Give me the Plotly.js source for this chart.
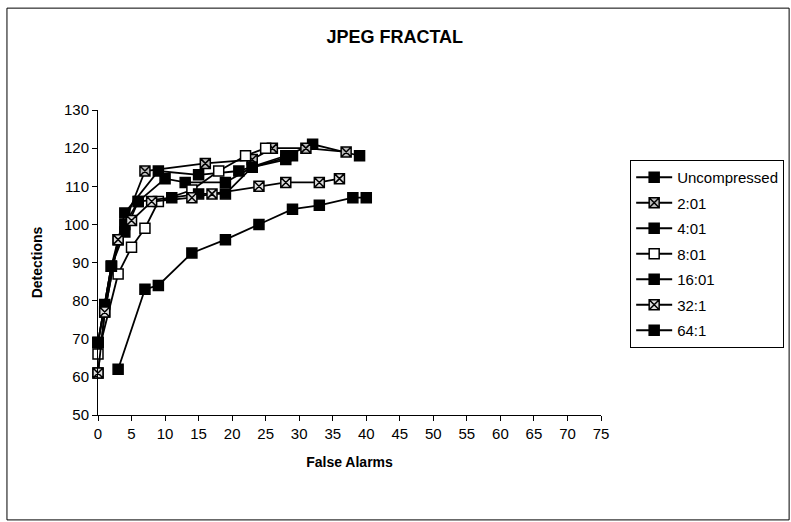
<!DOCTYPE html>
<html><head><meta charset="utf-8">
<script src="https://cdn.plot.ly/plotly-3.0.1.min.js"></script>
<style>body{margin:0;background:#fff}#c{width:791px;height:522px}</style>
</head><body><div id="c"></div>
<script>
const seriesNames = ["Uncompressed","2:01","4:01","8:01","16:01","32:1","64:1"];
const uncompX = [0,2,4,9,15,21,28,32,39];
const uncompY = [69,89,103,114,113,114,118,121,118];
const r2X = [0,1,3,7,16,23,26,31,37];
const r2Y = [61,77,96,114,116,117,120,120,119];
const r4X = [0,2,4,6,10,13,19,23,29];
const r4Y = [69,89,98,106,112,111,111,115,118];
const r8X = [0,3,5,7,9,14,18,22,25];
const r8Y = [66,87,94,99,106,109,114,118,120];
const r16X = [0,1,2,4,6,11,15,19,23,28];
const r16Y = [69,79,89,100,106,107,108,108,115,117];
const r32X = [0,1,3,5,8,14,17,24,28,33,36];
const r32Y = [61,77,96,101,106,107,108,110,111,111,112];
const r64X = [3,7,9,14,19,24,29,33,38,40];
const r64Y = [62,83,84,92.5,96,100,104,105,107,107];

const xs = [uncompX,r2X,r4X,r8X,r16X,r32X,r64X];
const ys = [uncompY,r2Y,r4Y,r8Y,r16Y,r32Y,r64Y];
const styles = [
  {symbol:'square', color:'#000'},
  {symbol:'square-x', color:'#bbb'},
  {symbol:'square', color:'#000'},
  {symbol:'square', color:'#fff'},
  {symbol:'square', color:'#000'},
  {symbol:'square-x', color:'#ddd'},
  {symbol:'square', color:'#000'}
];
const traces = seriesNames.map((n,i)=>({
  x: xs[i], y: ys[i], name: n, type:'scatter', mode:'lines+markers',
  legendgroup: 'g'+i,
  line:{color:'#000', width:1.8},
  marker:{symbol:styles[i].symbol, size:10, color:styles[i].color, line:{color:'#000', width:1.5}},
  cliponaxis:false
}));
const layout = {
  width:791, height:522,
  margin:{l:98, r:190, t:110, b:107, autoexpand:false},
  paper_bgcolor:'#fff', plot_bgcolor:'#fff',
  font:{family:'Arial, Liberation Sans, sans-serif', color:'#000', size:15},
  title:{text:'<b>JPEG FRACTAL</b>', font:{size:18}, x:0.59, xref:'paper', xanchor:'center', y:0.93, yanchor:'middle'},
  xaxis:{range:[0,75], dtick:5, tick0:0, showgrid:false, zeroline:false, showline:true, linecolor:'#000', linewidth:1,
    ticks:'outside', ticklen:5, tickcolor:'#000', automargin:false,
    title:{text:'<b>False Alarms</b>', font:{size:14}, standoff:16}},
  yaxis:{range:[50,130], dtick:10, tick0:50, showgrid:false, zeroline:false, showline:true, linecolor:'#000', linewidth:1,
    ticks:'outside', ticklen:5, tickcolor:'#000', automargin:false,
    title:{text:'<b>Detections</b>', font:{size:14}, standoff:18}},
  legend:{x:1.058, y:0.836, xanchor:'left', yanchor:'top', bordercolor:'#000', borderwidth:1,
    font:{size:15}, tracegroupgap:3, itemwidth:36},
  showlegend:true,
  shapes:[{type:'rect', xref:'paper', yref:'paper', x0:-0.181, x1:1.374, y0:-0.344, y1:1.334,
    line:{color:'#000', width:1}}]
};
Plotly.newPlot('c', traces, layout, {displayModeBar:false, staticPlot:true});
</script></body></html>
